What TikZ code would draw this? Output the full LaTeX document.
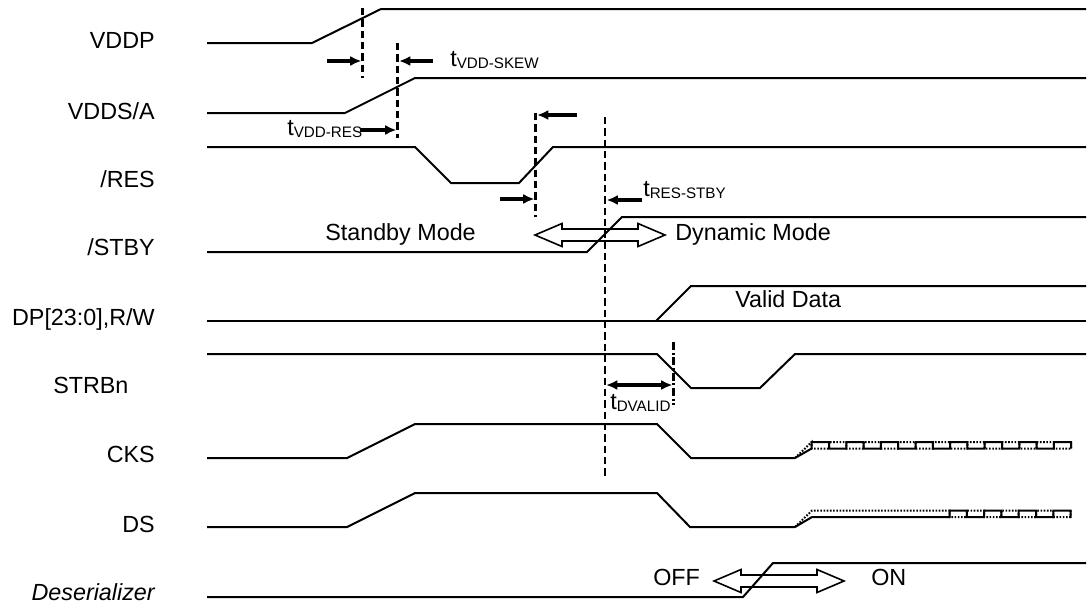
\documentclass[tikz,border=0pt]{standalone}
\usepackage{fontspec}
\setmainfont{Liberation Sans}
\usetikzlibrary{arrows.meta}

% time label: t with lowered smaller index
\newcommand{\tsub}[1]{t\raisebox{-2pt}{\fontsize{11.4}{13}\selectfont #1}}
% outlined double arrow between two modes: x0, x1, y
\newcommand{\modearrow}[3]{%
  \draw[modeline] (#1,#3) -- ++(27,-11.5) -- ++(0,5.5) -- ({#2-27},{#3-6})
    -- ++(0,-5.5) -- (#2,#3) -- ++(-27,11.5) -- ++(0,-5.5)
    -- ({#1+27},{#3+6}) -- ++(0,5.5) -- cycle;}

\begin{document}
\begin{tikzpicture}[x=0.75pt, y=-0.75pt,
  every node/.style={font=\fontsize{17.5}{21}\selectfont, inner sep=0pt},
  sig/.style={line width=1.5pt, line join=miter},
  cmp/.style={line width=1.5pt, dash pattern=on 1.2pt off 1.2pt},
  vline/.style={line width=2.2pt, dash pattern=on 5.5pt off 3pt},
  dotline/.style={line width=1.7pt, dash pattern=on 6pt off 2pt on 1.5pt off 2pt},
  tarrow/.style={line width=2.6pt, -{Latex[length=8.5pt,width=7.5pt]}},
  modeline/.style={line width=1.2pt, line join=miter},
  lbl/.style={anchor=base east}]
  \useasboundingbox (0,0) rectangle (1091,603);
  % Dimensions
  \def\xe{1086}
  \def\hp{17.3}

  % Signal names
  \node[lbl] (vddp)  at (155,48)  {VDDP};
  \node[lbl] (vddsa) at (155,119) {VDDS/A};
  \node[lbl] (res)   at (155,187) {/RES};
  \node[lbl] (stby)  at (155,255) {/STBY};
  \node[lbl] (dp)    at (155,325) {DP[23:0],R/W};
  \node[anchor=base west] (strbn) at (53,393) {STRBn};
  \node[lbl] (cks)   at (155,462) {CKS};
  \node[lbl] (ds)    at (155,532) {DS};
  \node[lbl, font=\fontsize{17.5}{21}\selectfont\itshape] (deser) at (155,600) {Deserializer};

  % Supplies and reset
  \draw[sig] (207,43) -- (312,43) -- (381,9) -- (\xe,9);
  \draw[sig] (207,113) -- (345,113) -- (415,78) -- (\xe,78);
  \draw[sig] (207,147) -- (415,147) -- (451,183) -- (519,183) -- (553,147) -- (\xe,147);
  \draw[sig] (207,252) -- (587,252) -- (622,217) -- (\xe,217);

  % Data bus and strobe
  \draw[sig] (207,321) -- (\xe,321);
  \draw[sig] (656,321) -- (691,286) -- (\xe,286);
  \draw[sig] (207,354) -- (657,354) -- (691,388) -- (760,388) -- (795,354) -- (\xe,354);

  % CKS pair
  \draw[sig] (207,458) -- (347,458) -- (415,424) -- (657,424) -- (691,458) -- (795,458);
  \draw[sig] (795,458) -- (811.7,448.5)
    \foreach \i in {1,...,7} { -- ++(0,-6.5) -- ++(\hp,0) -- ++(0,6.5) -- ++(\hp,0) }
    -- ++(0,-6.5) -- ++(\hp,0) -- ++(0,6.5);
  \draw[cmp] (795,458) -- (811.7,442)
    \foreach \i in {1,...,7} { -- ++(0,6.5) -- ++(\hp,0) -- ++(0,-6.5) -- ++(\hp,0) }
    -- ++(0,6.5) -- ++(\hp,0) -- ++(0,-6.5);

  % DS pair
  \draw[sig] (207,527) -- (347,527) -- (415,493) -- (657,493) -- (690,527) -- (795,527);
  \draw[sig] (795,527) -- (812,517) -- (949.5,517)
    \foreach \i in {1,...,3} { -- ++(0,-6.5) -- ++(\hp,0) -- ++(0,6.5) -- ++(\hp,0) }
    -- ++(0,-6.5) -- ++(\hp,0) -- ++(0,6.5);
  \draw[cmp] (795,527) -- (812,510.5) -- (949.5,510.5)
    \foreach \i in {1,...,3} { -- ++(0,6.5) -- ++(\hp,0) -- ++(0,-6.5) -- ++(\hp,0) }
    -- ++(0,6.5) -- ++(\hp,0) -- ++(0,-6.5);

  % Deserializer state
  \draw[sig] (207,597) -- (743,597) -- (773,563) -- (\xe,563);

  % Timing marks
  \draw[vline] (362.7,8) -- (362.7,78);
  \draw[vline] (397.7,43) -- (397.7,138);
  \draw[vline] (535.7,113) -- (535.7,217);
  \draw[vline] (605,117) -- (605,476);
  \draw[dotline] (673.5,342) -- (673.5,405);

  \draw[tarrow] (327,61) -- (361.5,61);
  \draw[tarrow] (433,61) -- (399,61);
  \node[anchor=base west] (tskew) at (450,66) {\tsub{VDD-SKEW}};
  \draw[tarrow] (360,130) -- (396.5,130);
  \node[anchor=base west] (tvddres) at (287,135) {\tsub{VDD-RES}};
  \draw[tarrow] (577,115) -- (537,115);
  \draw[tarrow] (500,199) -- (534.5,199);
  \draw[tarrow] (642,200) -- (606.5,200);
  \node[anchor=base west] (tresstby) at (643,196) {\tsub{RES-STBY}};
  \draw[tarrow, {Latex[length=8.5pt,width=7.5pt]}-{Latex[length=8.5pt,width=7.5pt]}] (606,385) -- (672.5,385);
  \node[anchor=base west] (tdvalid) at (610,409) {\tsub{DVALID}};

  % Modes
  \modearrow{535}{665}{235}
  \node[anchor=base east] (standby) at (476,240) {Standby Mode};
  \node[anchor=base west] (dynamic) at (675,240) {Dynamic Mode};
  \node[anchor=base west] (valid) at (735,307) {Valid Data};
  \modearrow{714}{844}{581}
  \node[anchor=base west] (off) at (653,585) {OFF};
  \node[anchor=base west] (on) at (871,585) {ON};
\end{tikzpicture}
\end{document}
